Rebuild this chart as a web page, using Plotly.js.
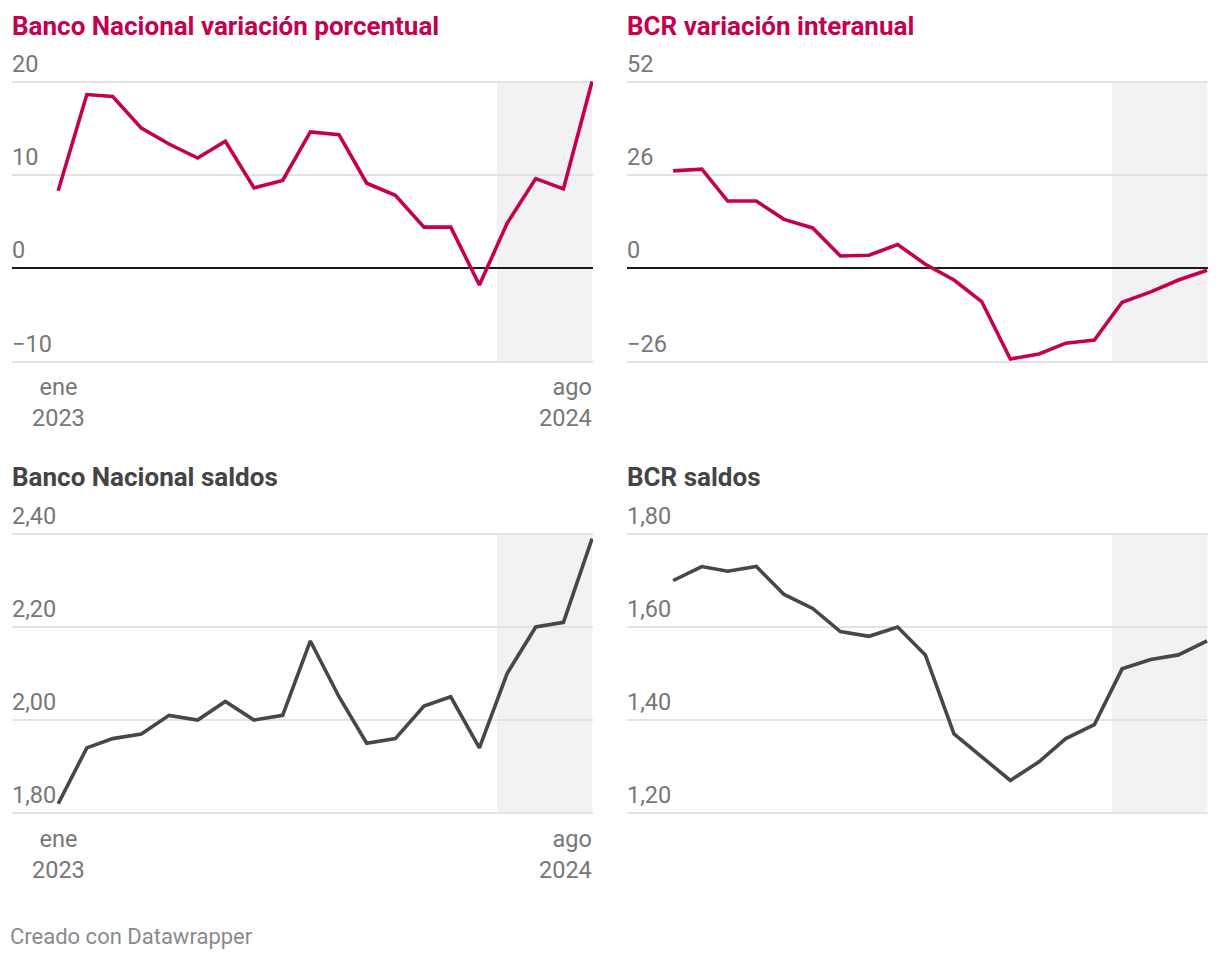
<!DOCTYPE html>
<html>
<head>
<meta charset="utf-8">
<script src="https://cdn.plot.ly/plotly-3.0.1.min.js"></script>
<style>html,body{margin:0;padding:0;background:#fff;}</style>
</head>
<body>
<div id="chart" style="width:1220px;height:960px;"></div>
<script>
// ---- data ----
const months = ['2023-01-01','2023-02-01','2023-03-01','2023-04-01','2023-05-01','2023-06-01','2023-07-01','2023-08-01','2023-09-01','2023-10-01','2023-11-01','2023-12-01','2024-01-01','2024-02-01','2024-03-01','2024-04-01','2024-05-01','2024-06-01','2024-07-01','2024-08-01'];
const bnVariacion  = [8.3, 18.6, 18.4, 15.0, 13.3, 11.8, 13.6, 8.6, 9.4, 14.6, 14.3, 9.1, 7.8, 4.4, 4.4, -1.8, 4.8, 9.6, 8.5, 20.0];
const bcrVariacion = [27.1, 27.6, 18.7, 18.7, 13.6, 11.2, 3.4, 3.6, 6.6, 1.1, -3.3, -9.3, -25.3, -23.9, -20.9, -20.0, -9.5, -6.6, -3.3, -0.6];
const bnSaldos     = [1.82, 1.94, 1.96, 1.97, 2.01, 2.00, 2.04, 2.00, 2.01, 2.17, 2.05, 1.95, 1.96, 2.03, 2.05, 1.94, 2.10, 2.20, 2.21, 2.39];
const bcrSaldos    = [1.70, 1.73, 1.72, 1.73, 1.67, 1.64, 1.59, 1.58, 1.60, 1.54, 1.37, 1.32, 1.27, 1.31, 1.36, 1.39, 1.51, 1.53, 1.54, 1.57];

const titles = ['Banco Nacional variación porcentual', 'BCR variación interanual', 'Banco Nacional saldos', 'BCR saldos'];
const ticksBnVar  = [-10, 0, 10, 20];
const ticksBnVarText  = ['\u221210', '0', '10', '20'];
const ticksBcrVar = [-26, 0, 26, 52];
const ticksBcrVarText = ['\u221226', '0', '26', '52'];
const ticksBnSal  = [1.8, 2.0, 2.2, 2.4];
const ticksBnSalText  = ['1,80', '2,00', '2,20', '2,40'];
const ticksBcrSal = [1.2, 1.4, 1.6, 1.8];
const ticksBcrSalText = ['1,20', '1,40', '1,60', '1,80'];
const xLabelDates = ['2023-01-01', '2024-08-01'];
const xLabelText  = ['ene<br>2023', 'ago<br>2024'];
const shadeStart = '2024-04-20';
const shadeEnd   = '2024-08-01';
const footer = 'Creado con Datawrapper';

// ---- style ----
const PINK = '#c4004f';
const DARK = '#474747';
const FONT = 'Roboto, "Liberation Sans", sans-serif';
const xRange = ['2022-11-12', '2024-08-02'];

const W = 1220, H = 960;
const PAD = 3; // px of extra room so edge gridlines are drawn
const colX = [[12/W, 593/W], [627/W, 1208/W]];
const rows = [[81.5, 361.5], [534, 813]];
const rowY = rows.map(([t, b]) => [1 - (b + PAD)/H, 1 - (t - PAD)/H]);

function padRange(lo, hi, row) {
  const px = rows[row][1] - rows[row][0];
  const d = (hi - lo) * PAD / px;
  return [lo - d, hi + d];
}

function xa(dom, anchor) {
  return {domain: dom, anchor: anchor, type: 'date', range: xRange,
    showgrid: false, zeroline: false, showline: false, ticks: '', showticklabels: false, fixedrange: true};
}
function ya(dom, anchor, range, vals, text, zero) {
  return {domain: dom, anchor: anchor, range: range, tickmode: 'array', tickvals: vals, ticktext: text,
    ticklabelposition: 'inside', ticklabelstandoff: -3, ticklabelshift: -18, ticklabeloverflow: 'allow',
    ticks: '', showline: false, showgrid: true, gridcolor: '#e3e3e3', gridwidth: 2,
    zeroline: zero, zerolinecolor: '#1a1a1a', zerolinewidth: 2,
    tickfont: {family: FONT, size: 23.5, color: '#777777'}, fixedrange: true};
}

const traces = [
  {x: months, y: bnVariacion,  xaxis: 'x',  yaxis: 'y',  mode: 'lines', line: {color: PINK, width: 3.6}},
  {x: months, y: bcrVariacion, xaxis: 'x2', yaxis: 'y2', mode: 'lines', line: {color: PINK, width: 3.6}},
  {x: months, y: bnSaldos,     xaxis: 'x3', yaxis: 'y3', mode: 'lines', line: {color: DARK, width: 3.6}},
  {x: months, y: bcrSaldos,    xaxis: 'x4', yaxis: 'y4', mode: 'lines', line: {color: DARK, width: 3.6}}
];

const shapes = [['x','y',0],['x2','y2',0],['x3','y3',1],['x4','y4',1]].map(([xr, yr]) => ({
  type: 'rect', xref: xr, yref: yr + ' domain', x0: shadeStart, x1: shadeEnd, y0: PAD/283, y1: 1 - PAD/283,
  fillcolor: '#f2f2f2', line: {width: 0}, layer: 'below'
}));

const annotations = [];
const titlePos = [[10/W, 1 - 26/H, PINK], [625/W, 1 - 26/H, PINK], [10/W, 1 - 477/H, '#444444'], [625/W, 1 - 477/H, '#444444']];
titles.forEach((t, i) => {
  annotations.push({text: '<b>' + t + '</b>', xref: 'paper', yref: 'paper', x: titlePos[i][0], y: titlePos[i][1],
    xanchor: 'left', yanchor: 'middle', showarrow: false, font: {family: FONT, size: 26, color: titlePos[i][2]}});
});
[['x','y'],['x3','y3']].forEach(([xr, yr]) => {
  xLabelDates.forEach((d, i) => {
    annotations.push({text: xLabelText[i], xref: xr, yref: yr + ' domain', x: d, y: 0,
      xanchor: i === 0 ? 'center' : 'right', yanchor: 'top', yshift: -7, xshift: i === 0 ? 0 : 2,
      align: i === 0 ? 'center' : 'right',
      showarrow: false, font: {family: FONT, size: 23.5, color: '#777777'}});
  });
});
annotations.push({text: footer, xref: 'paper', yref: 'paper', x: 8/W, y: 1 - 936/H, xanchor: 'left', yanchor: 'middle',
  showarrow: false, font: {family: FONT, size: 22, color: '#8a8a8a'}});

const layout = {
  width: W, height: H, margin: {l: 0, r: 0, t: 0, b: 0},
  paper_bgcolor: '#ffffff', plot_bgcolor: 'rgba(0,0,0,0)', showlegend: false,
  font: {family: FONT},
  xaxis: xa(colX[0], 'y'),  yaxis: ya(rowY[0], 'x', padRange(-10, 20, 0), ticksBnVar, ticksBnVarText, true),
  xaxis2: xa(colX[1], 'y2'), yaxis2: ya(rowY[0], 'x2', padRange(-26, 52, 0), ticksBcrVar, ticksBcrVarText, true),
  xaxis3: xa(colX[0], 'y3'), yaxis3: ya(rowY[1], 'x3', padRange(1.8, 2.4, 1), ticksBnSal, ticksBnSalText, false),
  xaxis4: xa(colX[1], 'y4'), yaxis4: ya(rowY[1], 'x4', padRange(1.2, 1.8, 1), ticksBcrSal, ticksBcrSalText, false),
  shapes: shapes, annotations: annotations
};

Plotly.newPlot('chart', traces, layout, {staticPlot: true, displayModeBar: false});
</script>
</body>
</html>
